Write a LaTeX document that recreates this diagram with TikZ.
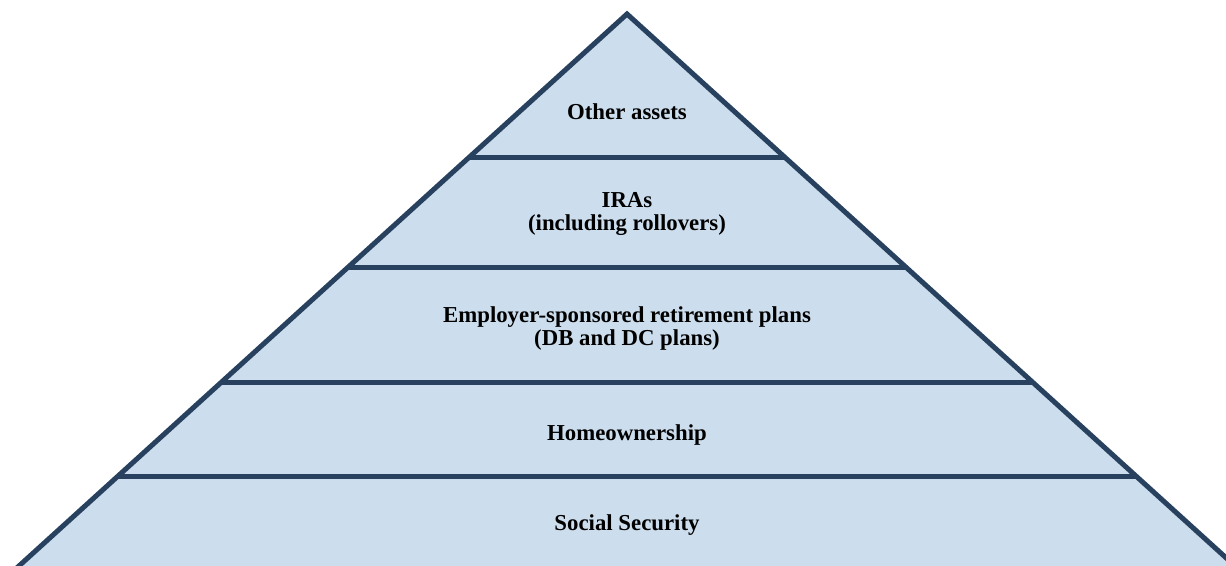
\documentclass[tikz,border=0pt]{standalone}
\usepackage{fontspec}
\setmainfont{Liberation Serif}
\definecolor{pyrfill}{HTML}{CCDDED}
\definecolor{pyrline}{HTML}{27415F}
\begin{document}
\begin{tikzpicture}[x=1pt,y=-1pt,
  band/.style={draw=pyrline,line width=5pt},
  lbl/.style={font=\fontsize{22.8}{23}\selectfont\bfseries,align=center,text=black,inner sep=0pt}]
\useasboundingbox (0,0) rectangle (1226,565);
\begin{scope}
\clip (0,0) rectangle (1226,565);
\coordinate (apex) at (627,14);
\coordinate (bl) at (9,575);
\coordinate (br) at (1245,575);
\coordinate (l1) at (469.5,157); \coordinate (r1) at (784.5,157);
\coordinate (l2) at (348.3,267); \coordinate (r2) at (905.7,267);
\coordinate (l3) at (221.6,382); \coordinate (r3) at (1032.4,382);
\coordinate (l4) at (118.1,476); \coordinate (r4) at (1135.9,476);
\fill[pyrfill] (bl) -- (apex) -- (br) -- cycle;
\draw[band,line join=miter] (bl) -- (apex) -- (br);
\draw[band] (l1) -- (r1);
\draw[band] (l2) -- (r2);
\draw[band] (l3) -- (r3);
\draw[band] (l4) -- (r4);
\end{scope}
\node[lbl] (t1) at (627,112) {Other assets};
\node[lbl] (t2) at (627,214) {IRAs\\(including rollovers)};
\node[lbl] (t3) at (627,329) {Employer-sponsored retirement plans\\(DB and DC plans)};
\node[lbl] (t4) at (627,435) {Homeownership};
\node[lbl] (t5) at (627,525) {Social Security};
\end{tikzpicture}
\end{document}
